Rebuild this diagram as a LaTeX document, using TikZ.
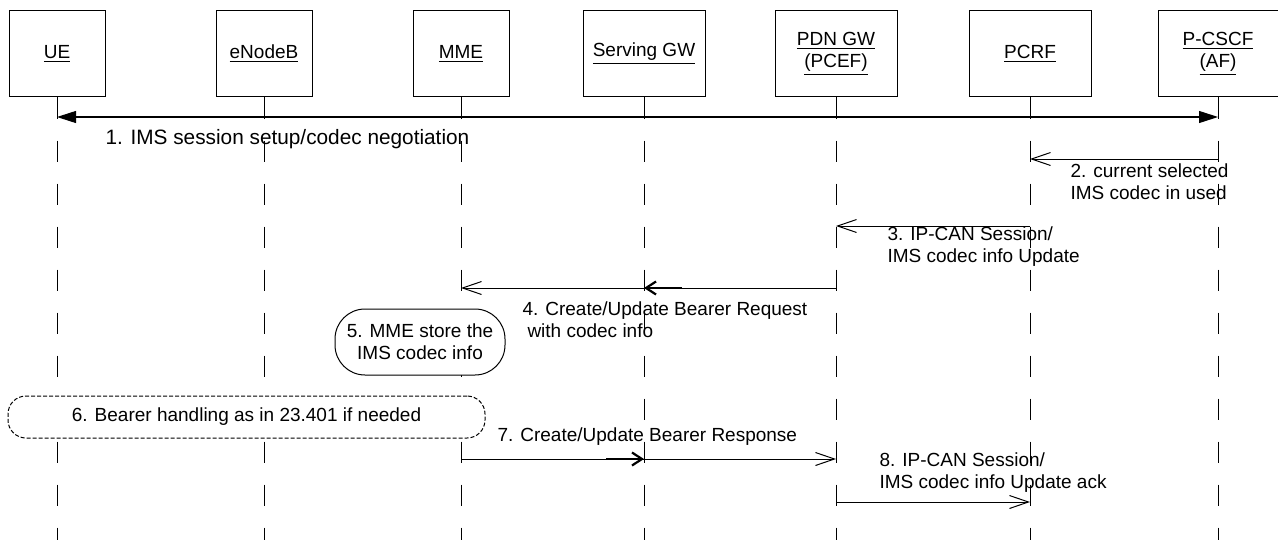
\documentclass[tikz,border=0pt]{standalone}
\usepackage{fontspec}
\setmainfont{Liberation Sans}
\usetikzlibrary{arrows.meta,calc}

\begin{document}
\begin{tikzpicture}[x=0.5pt, y=-0.5pt, line width=0.5pt,
    every node/.style={font=\fontsize{9.5}{11}\selectfont, inner sep=0pt},
    actor/.style={draw, rectangle, minimum height=43pt, align=center},
    narrow/.style={actor, minimum width=48pt},
    wide/.style={actor, minimum width=61pt},
    lifeline/.style={dash pattern=on 10.75pt off 10.75pt},
    msg/.style={-{Straight Barb[length=9.5pt,width=6.5pt]}},
    both/.style={{Triangle[length=9.5pt,width=6pt]}-{Triangle[length=9.5pt,width=6pt]}},
    midtip/.style={line width=1.1pt, -{Straight Barb[length=5pt,width=6.5pt]}},
    note/.style={align=left, anchor=west},
    stepbox/.style={draw, fill=white, align=center}]
    \useasboundingbox (0,0) rectangle (1278,540);

    \node[narrow] (ue) at (57,54) {\underline{UE}};
    \node[narrow] (enb) at (264,54) {\underline{eNodeB}};
    \node[narrow] (mme) at (461,54) {\underline{MME}};
    \node[wide] (sgw) at (644,54) {\underline{Serving GW}};
    \node[wide] (pgw) at (836,54) {\underline{PDN GW}\\\underline{(PCEF)}};
    \node[wide] (pcrf) at (1030,54) {\underline{PCRF}};
    \node[actor, minimum width=60pt] (pcscf) at (1218,54) {\underline{P-CSCF}\\\underline{(AF)}};

    \foreach \n in {ue,enb,mme,sgw,pgw,pcrf,pcscf}
        \draw[lifeline] (\n.south) -- (\n.south |- 0,540);

    \draw[both] (ue |- 0,117) -- (pcscf |- 0,117);
    \node[note, font=\fontsize{10.4}{12}\selectfont] (t1) at (105,139) {1. IMS session setup/codec negotiation};

    \draw[msg] (pcscf |- 0,159) -- (pcrf |- 0,159);
    \node[note] (t2) at (1070,182) {2. current selected\\IMS codec in used};

    \draw[msg] (pcrf |- 0,226) -- (pgw |- 0,226);
    \node[note] (t3) at (887,247) {3. IP-CAN Session/\\IMS codec info Update};

    \draw[msg] (pgw |- 0,288) -- (mme |- 0,288);
    \draw[midtip] ($(sgw |- 0,288)+(38,0)$) -- (sgw |- 0,288);
    \node[note] (t4) at (522,320) {4. Create/Update Bearer Request\\\hspace*{2.5pt}with codec info};

    \node[stepbox, rounded corners=15pt, minimum width=85pt, minimum height=33pt] (store) at (420,342) {5. MME store the\\IMS codec info};

    \node[stepbox, dash pattern=on 2pt off 1pt, rounded corners=9pt, minimum width=238.5pt, minimum height=21pt] (bearer) at (246.5,417) {6. Bearer handling as in 23.401 if needed};

    \draw[msg] (mme |- 0,459) -- (pgw |- 0,459);
    \draw[midtip] ($(sgw |- 0,459)+(-38,0)$) -- (sgw |- 0,459);
    \node[note] (t7) at (497,437) {7. Create/Update Bearer Response};

    \draw[msg] (pgw |- 0,502) -- (pcrf |- 0,502);
    \node[note] (t8) at (879,473) {8. IP-CAN Session/\\IMS codec info Update ack};
\end{tikzpicture}
\end{document}
